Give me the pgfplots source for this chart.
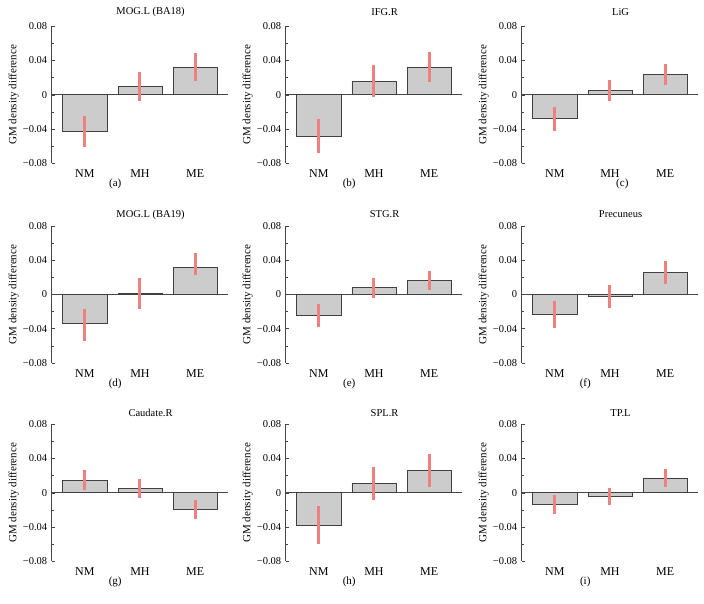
\documentclass[border=0pt]{standalone}
\usepackage{fontspec}
\setmainfont{Liberation Serif}
\usepackage{pgfplots}
\pgfplotsset{compat=1.18}

\definecolor{bargray}{RGB}{204,204,204}
\definecolor{edgegray}{RGB}{64,64,64}
\definecolor{axgray}{RGB}{70,70,70}
\definecolor{errred}{RGB}{240,128,128}

\pgfplotsset{
  panel/.style={
    scale only axis, width=176.5pt, height=137pt,
    anchor=south west,
    xmin=-0.6, xmax=2.6, ymin=-0.08, ymax=0.08,
    axis lines*=left,
    x axis line style={draw=none},
    y axis line style={-, draw=axgray, line width=0.6pt},
    xtick={0,1,2}, xticklabels={NM,MH,ME},
    xtick style={draw=none},
    ytick={-0.08,-0.04,0,0.04,0.08},
    yticklabels={−0.08,−0.04,0,0.04,0.08},
    scaled y ticks=false,
    minor y tick num=1,
    ytick style={draw=axgray, line width=0.5pt},
    major tick length=3pt, minor tick length=2pt,
    tick align=inside,
    yticklabel style={font=\fontsize{10.5}{12}\selectfont, xshift=-1pt},
    xticklabel style={font=\fontsize{12}{14}\selectfont},
    ylabel={GM density difference},
    ylabel style={at={(axis description cs:-0.215,0.5)}, anchor=center,
      font=\fontsize{11}{13}\selectfont},
    title style={at={(axis description cs:0.56,1)}, anchor=center, yshift=8pt,
      font=\fontsize{10.5}{12}\selectfont},
    extra y ticks={0}, extra y tick labels={},
    extra y tick style={grid=major, major grid style={draw=axgray, line width=0.6pt},
      major tick length=0pt},
    ybar, bar width=0.8,
    clip=false,
  },
  lower/.style={title style={yshift=-2.5pt}},
  bars/.style={fill=bargray, draw=edgegray, line width=0.7pt,
    error bars/.cd, y dir=both, y explicit, error mark=none,
    error bar style={line width=3pt, errred}},
}
\newcommand{\plabel}[2][0.36]{\node[font=\fontsize{11}{13}\selectfont] at (axis description cs:#1,0) [yshift=-21pt] {#2};}

\begin{document}
\begin{tikzpicture}
\useasboundingbox (0,0) rectangle (704pt,604pt);

% row 1
\begin{axis}[panel, at={(51.7pt,440.7pt)}, title={MOG.L (BA18)}]
\addplot[bars] coordinates {(0,-0.0426) +- (0,0.0184) (1,0.0095) +- (0,0.0168) (2,0.0325) +- (0,0.016)};
\plabel{(a)}
\end{axis}
\begin{axis}[panel, at={(285.7pt,440.7pt)}, title={IFG.R}]
\addplot[bars] coordinates {(0,-0.048) +- (0,0.020) (1,0.016) +- (0,0.0185) (2,0.0325) +- (0,0.0176)};
\plabel{(b)}
\end{axis}
\begin{axis}[panel, at={(521.7pt,440.7pt)}, title={LiG}]
\addplot[bars] coordinates {(0,-0.028) +- (0,0.014) (1,0.0047) +- (0,0.0125) (2,0.024) +- (0,0.012)};
\plabel[0.57]{(c)}
\end{axis}

% row 2
\begin{axis}[panel, lower, at={(51.7pt,241pt)}, title={MOG.L (BA19)}]
\addplot[bars] coordinates {(0,-0.034) += (0,0.017) -= (0,0.020) (1,0.001) +- (0,0.018) (2,0.032) += (0,0.017) -= (0,0.009)};
\plabel{(d)}
\end{axis}
\begin{axis}[panel, lower, at={(285.7pt,241pt)}, title={STG.R}]
\addplot[bars] coordinates {(0,-0.0246) +- (0,0.013) (1,0.0078) +- (0,0.012) (2,0.0168) +- (0,0.011)};
\plabel{(e)}
\end{axis}
\begin{axis}[panel, lower, at={(521.7pt,241pt)}, title={Precuneus}]
\addplot[bars] coordinates {(0,-0.023) += (0,0.015) -= (0,0.0165) (1,-0.0023) +- (0,0.0135) (2,0.0254) +- (0,0.0133)};
\plabel{(f)}
\end{axis}

% row 3
\begin{axis}[panel, lower, at={(51.7pt,42.7pt)}, title={Caudate.R}]
\addplot[bars] coordinates {(0,0.0148) +- (0,0.012) (1,0.005) +- (0,0.011) (2,-0.0194) +- (0,0.011)};
\plabel{(g)}
\end{axis}
\begin{axis}[panel, lower, at={(285.7pt,42.7pt)}, title={SPL.R}]
\addplot[bars] coordinates {(0,-0.0376) +- (0,0.022) (1,0.011) +- (0,0.0195) (2,0.026) +- (0,0.0195)};
\plabel{(h)}
\end{axis}
\begin{axis}[panel, lower, at={(521.7pt,42.7pt)}, title={TP.L}]
\addplot[bars] coordinates {(0,-0.0137) +- (0,0.0113) (1,-0.0043) +- (0,0.010) (2,0.0173) +- (0,0.010)};
\plabel{(i)}
\end{axis}
\end{tikzpicture}
\end{document}
